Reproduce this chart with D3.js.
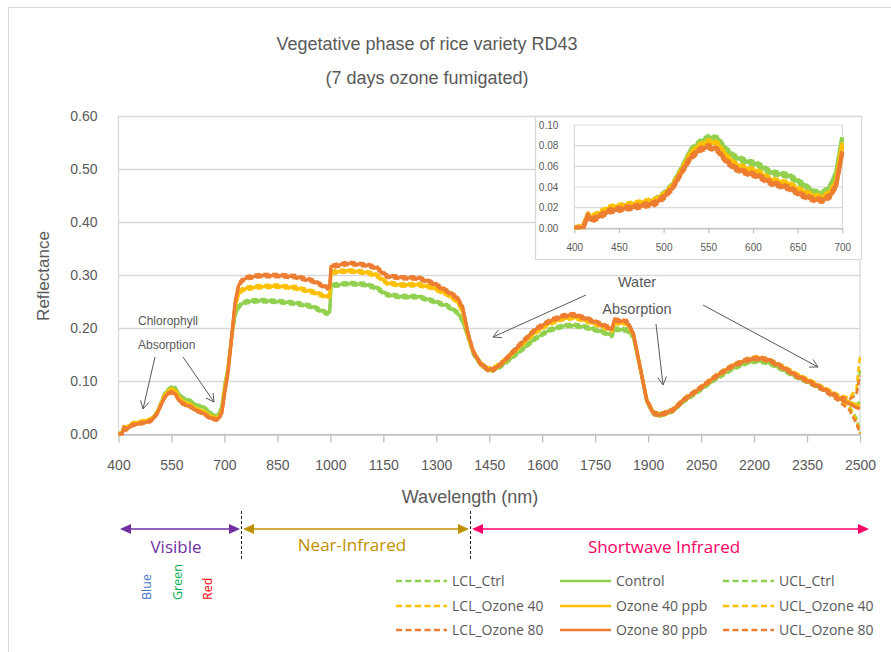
<!DOCTYPE html>
<html><head><meta charset="utf-8">
<script src="https://cdn.jsdelivr.net/npm/d3@7"></script>
<style>body{margin:0;background:#fff}svg{display:block}</style>
</head><body>
<script>
// ---------- DATA ----------
const wavelengths = [400,410,415,420,440,470,490,500,510,520,530,540,550,560,570,580,595,605,620,640,655,668,678,686,693,700,
 710,720,730,740,750,765,800,850,900,950,990,998,1002,1050,1100,1130,1160,1200,1250,1290,1330,1360,1375,1390,1405,1425,1445,1460,1480,1500,1540,1580,1620,1660,1690,1720,1760,1798,1804,1840,1858,1877,1896,1915,1935,1970,2000,2040,2090,2140,2180,2210,2240,2280,2320,2360,2400,2440,2470,2490,2500];

const control = [0.000,0.002,0.012,0.010,0.019,0.023,0.027,0.033,0.042,0.058,0.075,0.083,0.088,0.087,0.076,0.069,0.064,0.062,0.054,0.051,0.043,0.035,0.034,0.040,0.053,0.088,
 0.125,0.180,0.225,0.240,0.246,0.250,0.252,0.250,0.247,0.240,0.228,0.230,0.280,0.284,0.282,0.276,0.263,0.259,0.259,0.251,0.242,0.229,0.213,0.183,0.152,0.132,0.122,0.121,0.127,0.137,0.158,0.180,0.196,0.204,0.205,0.202,0.195,0.186,0.198,0.196,0.184,0.125,0.062,0.039,0.036,0.044,0.062,0.080,0.104,0.124,0.135,0.138,0.135,0.122,0.108,0.096,0.083,0.068,0.060,0.055,0.060];
const lclCtrl = [0.000,0.000,0.010,0.008,0.017,0.021,0.025,0.031,0.040,0.056,0.073,0.081,0.086,0.085,0.074,0.067,0.062,0.060,0.052,0.049,0.041,0.033,0.032,0.038,0.051,0.086,
 0.122,0.177,0.222,0.237,0.243,0.247,0.249,0.247,0.244,0.237,0.225,0.227,0.277,0.281,0.279,0.273,0.260,0.256,0.256,0.248,0.239,0.226,0.210,0.180,0.149,0.129,0.119,0.118,0.124,0.134,0.155,0.177,0.193,0.201,0.202,0.199,0.192,0.183,0.195,0.193,0.181,0.122,0.059,0.036,0.033,0.041,0.059,0.077,0.101,0.121,0.132,0.135,0.132,0.119,0.105,0.093,0.080,0.064,0.052,0.030,0.005];
const uclCtrl = [0.001,0.004,0.014,0.012,0.021,0.025,0.029,0.035,0.044,0.060,0.077,0.085,0.090,0.089,0.078,0.071,0.066,0.064,0.056,0.053,0.045,0.037,0.036,0.042,0.055,0.090,
 0.128,0.183,0.228,0.243,0.249,0.253,0.255,0.253,0.250,0.243,0.231,0.233,0.283,0.287,0.285,0.279,0.266,0.262,0.262,0.254,0.245,0.232,0.216,0.186,0.155,0.135,0.125,0.124,0.130,0.140,0.161,0.183,0.199,0.207,0.208,0.205,0.198,0.189,0.201,0.199,0.187,0.128,0.065,0.042,0.039,0.047,0.065,0.083,0.107,0.127,0.138,0.141,0.138,0.125,0.111,0.099,0.086,0.072,0.066,0.075,0.120];

const ozone40 = [0.000,0.002,0.013,0.011,0.020,0.024,0.027,0.032,0.041,0.056,0.072,0.080,0.084,0.082,0.070,0.062,0.057,0.055,0.047,0.043,0.036,0.031,0.030,0.034,0.045,0.081,
 0.120,0.180,0.240,0.265,0.272,0.275,0.278,0.279,0.276,0.268,0.259,0.260,0.305,0.308,0.305,0.300,0.285,0.281,0.282,0.276,0.264,0.250,0.230,0.185,0.155,0.133,0.123,0.123,0.131,0.143,0.168,0.192,0.209,0.218,0.220,0.215,0.206,0.196,0.210,0.209,0.188,0.127,0.064,0.040,0.036,0.045,0.064,0.083,0.108,0.129,0.140,0.144,0.140,0.127,0.112,0.099,0.085,0.070,0.060,0.054,0.055];
const lclO40 = [0.000,0.000,0.011,0.009,0.018,0.022,0.025,0.030,0.039,0.054,0.070,0.078,0.082,0.080,0.068,0.060,0.055,0.053,0.045,0.041,0.034,0.029,0.028,0.032,0.043,0.079,
 0.117,0.177,0.237,0.262,0.269,0.272,0.275,0.276,0.273,0.265,0.256,0.257,0.302,0.305,0.302,0.297,0.282,0.278,0.279,0.273,0.261,0.247,0.227,0.182,0.152,0.130,0.120,0.120,0.128,0.140,0.165,0.189,0.206,0.215,0.217,0.212,0.203,0.193,0.207,0.206,0.185,0.124,0.061,0.037,0.033,0.042,0.061,0.080,0.105,0.126,0.137,0.141,0.137,0.124,0.109,0.096,0.082,0.066,0.050,0.025,0.002];
const uclO40 = [0.001,0.004,0.015,0.013,0.022,0.026,0.029,0.034,0.043,0.058,0.074,0.082,0.086,0.084,0.072,0.064,0.059,0.057,0.049,0.045,0.038,0.033,0.032,0.036,0.047,0.083,
 0.123,0.183,0.243,0.268,0.275,0.278,0.281,0.282,0.279,0.271,0.262,0.263,0.308,0.311,0.308,0.303,0.288,0.284,0.285,0.279,0.267,0.253,0.233,0.188,0.158,0.136,0.126,0.126,0.134,0.146,0.171,0.195,0.212,0.221,0.223,0.218,0.209,0.199,0.213,0.212,0.191,0.130,0.067,0.043,0.039,0.048,0.067,0.086,0.111,0.132,0.143,0.147,0.143,0.130,0.115,0.102,0.088,0.074,0.068,0.085,0.148];

const ozone80 = [0.000,0.000,0.012,0.008,0.017,0.021,0.024,0.030,0.039,0.054,0.068,0.076,0.079,0.076,0.065,0.058,0.053,0.051,0.044,0.039,0.032,0.028,0.027,0.031,0.041,0.074,
 0.115,0.180,0.248,0.280,0.290,0.295,0.299,0.299,0.297,0.289,0.276,0.278,0.316,0.322,0.319,0.314,0.298,0.295,0.294,0.285,0.270,0.257,0.238,0.190,0.155,0.133,0.122,0.121,0.130,0.143,0.171,0.197,0.213,0.223,0.225,0.219,0.209,0.198,0.215,0.212,0.190,0.127,0.064,0.039,0.036,0.045,0.064,0.083,0.108,0.129,0.140,0.143,0.140,0.126,0.110,0.097,0.083,0.067,0.057,0.050,0.048];
const lclO80 = [0.000,0.000,0.010,0.006,0.015,0.019,0.022,0.028,0.037,0.052,0.066,0.074,0.077,0.074,0.063,0.056,0.051,0.049,0.042,0.037,0.030,0.026,0.025,0.029,0.039,0.072,
 0.112,0.177,0.245,0.277,0.287,0.292,0.296,0.296,0.294,0.286,0.273,0.275,0.313,0.319,0.316,0.311,0.295,0.292,0.291,0.282,0.267,0.254,0.235,0.187,0.152,0.130,0.119,0.118,0.127,0.140,0.168,0.194,0.210,0.220,0.222,0.216,0.206,0.195,0.212,0.209,0.187,0.124,0.061,0.036,0.033,0.042,0.061,0.080,0.105,0.126,0.137,0.140,0.137,0.123,0.107,0.094,0.080,0.062,0.045,0.020,0.000];
const uclO80 = [0.001,0.002,0.014,0.010,0.019,0.023,0.026,0.032,0.041,0.056,0.070,0.078,0.081,0.078,0.067,0.060,0.055,0.053,0.046,0.041,0.034,0.030,0.029,0.033,0.043,0.076,
 0.118,0.183,0.251,0.283,0.293,0.298,0.302,0.302,0.300,0.292,0.279,0.281,0.319,0.325,0.322,0.317,0.301,0.298,0.297,0.288,0.273,0.260,0.241,0.193,0.158,0.136,0.125,0.124,0.133,0.146,0.174,0.200,0.216,0.226,0.228,0.222,0.212,0.201,0.218,0.215,0.193,0.130,0.067,0.042,0.039,0.048,0.067,0.086,0.111,0.132,0.143,0.146,0.143,0.129,0.113,0.100,0.086,0.072,0.065,0.075,0.110];

const xTicks = [400,550,700,850,1000,1150,1300,1450,1600,1750,1900,2050,2200,2350,2500];
const yTicks = [0,0.1,0.2,0.3,0.4,0.5,0.6];
const insetXTicks = [400,450,500,550,600,650,700];
const insetYTicks = [0,0.02,0.04,0.06,0.08,0.10];

const seriesNames = ["LCL_Ctrl","Control","UCL_Ctrl","LCL_Ozone 40","Ozone 40 ppb","UCL_Ozone 40","LCL_Ozone 80","Ozone 80 ppb","UCL_Ozone 80"];
const seriesValues = [lclCtrl,control,uclCtrl,lclO40,ozone40,uclO40,lclO80,ozone80,uclO80];
const seriesColors = ["#92D050","#92D050","#92D050","#FFC000","#FFC000","#FFC000","#ED7D31","#ED7D31","#ED7D31"];
const seriesDashed = [true,false,true,true,false,true,true,false,true];

// ---------- DRAW ----------
const W=891,H=652, GRAY="#595959", GRID="#d9d9d9";
const baseFont="'Liberation Sans', Arial, sans-serif";
const svg=d3.select("body").append("svg").attr("width",W).attr("height",H)
  .style("font-family",baseFont);
svg.append("rect").attr("width",W).attr("height",H).attr("fill","#fff");
svg.append("rect").attr("x",8.5).attr("y",7.5).attr("width",W+20).attr("height",H+20)
  .attr("fill","none").attr("stroke",GRID);

svg.append("text").attr("x",427).attr("y",50).attr("text-anchor","middle")
  .attr("font-size",18).attr("fill",GRAY).text("Vegetative phase of rice variety RD43");
svg.append("text").attr("x",427).attr("y",84).attr("text-anchor","middle")
  .attr("font-size",18).attr("fill",GRAY).text("(7 days ozone fumigated)");

const x=d3.scaleLinear().domain([400,2500]).range([118.5,860]);
const y=d3.scaleLinear().domain([0,0.6]).range([434,116]);

// grid
svg.append("g").selectAll("line").data(yTicks).join("line")
  .attr("x1",x(400)).attr("x2",x(2500)).attr("y1",d=>Math.round(y(d))+0.5).attr("y2",d=>Math.round(y(d))+0.5)
  .attr("stroke",GRID).attr("stroke-width",1.3);
svg.append("line").attr("x1",x(2500)).attr("x2",x(2500)).attr("y1",y(0.6)).attr("y2",y(0)).attr("stroke",GRID).attr("stroke-width",1.3);
svg.append("line").attr("x1",x(400)).attr("x2",x(400)).attr("y1",y(0.6)).attr("y2",y(0)).attr("stroke",GRID).attr("stroke-width",1.3);

// axes
const xa=svg.append("g").attr("transform","translate(0,"+(Math.round(y(0))+0.5)+")")
  .call(d3.axisBottom(x).tickValues(xTicks).tickSize(8).tickSizeOuter(0).tickPadding(18).tickFormat(d3.format("d")));
xa.select(".domain").attr("stroke","#bfbfbf").attr("stroke-width",1.3);
xa.selectAll(".tick line").attr("stroke","#bfbfbf").attr("stroke-width",1.3);
xa.selectAll("text").attr("fill",GRAY).attr("font-size",14).attr("font-family",baseFont);

const ya=svg.append("g").attr("transform","translate("+x(400)+",0)")
  .call(d3.axisLeft(y).tickValues(yTicks).tickSize(0).tickPadding(21).tickFormat(d3.format(".2f")));
ya.select(".domain").remove();
ya.selectAll("text").attr("fill",GRAY).attr("font-size",14).attr("font-family",baseFont);

svg.append("text").attr("x",470).attr("y",503).attr("text-anchor","middle")
  .attr("font-size",18).attr("fill",GRAY).text("Wavelength (nm)");
svg.append("text").attr("transform","translate(49,276) rotate(-90)").attr("text-anchor","middle")
  .attr("font-size",17).attr("fill",GRAY).text("Reflectance");

// lines
svg.append("clipPath").attr("id","mainclip").append("rect")
  .attr("x",x(400)).attr("y",y(0.6)).attr("width",x(2500)-x(400)+2).attr("height",y(0)-y(0.6)+2);
const mainG=svg.append("g").attr("clip-path","url(#mainclip)");
const line=d3.line().x((d,i)=>x(wavelengths[i])).y(d=>y(d));
seriesValues.forEach((vals,k)=>{
  mainG.append("path").datum(vals).attr("d",line).attr("fill","none")
    .attr("stroke",seriesColors[k]).attr("stroke-width",seriesDashed[k]?2.6:3.4)
    .attr("stroke-linejoin","round")
    .attr("stroke-dasharray",seriesDashed[k]?"6,3":null);
});

// annotations
function arrow(x1,y1,x2,y2){
  const g=svg.append("g").attr("stroke","#595959").attr("stroke-width",1).attr("fill","none");
  g.append("line").attr("x1",x1).attr("y1",y1).attr("x2",x2).attr("y2",y2);
  const a=Math.atan2(y2-y1,x2-x1), L=9, s=0.5;
  g.append("path").attr("d",`M${x2-L*Math.cos(a-s)},${y2-L*Math.sin(a-s)}L${x2},${y2}L${x2-L*Math.cos(a+s)},${y2-L*Math.sin(a+s)}`);
}
svg.append("text").attr("x",138).attr("y",325).attr("font-size",12).attr("fill",GRAY).text("Chlorophyll");
svg.append("text").attr("x",138).attr("y",349).attr("font-size",12).attr("fill",GRAY).text("Absorption");
arrow(155,357,143,409);
arrow(183,357,214,402);
svg.append("text").attr("x",637).attr("y",287).attr("text-anchor","middle").attr("font-size",14.5).attr("fill",GRAY).text("Water");
svg.append("text").attr("x",637).attr("y",314).attr("text-anchor","middle").attr("font-size",14.5).attr("fill",GRAY).text("Absorption");
arrow(586,295,493,337);
arrow(656,324,663,385);
arrow(703,305,818,367);

// ---------- INSET ----------
svg.append("rect").attr("x",535.5).attr("y",116.5).attr("width",326).attr("height",143)
  .attr("fill","#fff").attr("stroke",GRID).attr("stroke-width",1.3);
const ix=d3.scaleLinear().domain([400,700]).range([574.3,842.3]);
const iy=d3.scaleLinear().domain([0,0.1]).range([228.3,125]);
svg.append("g").selectAll("line").data(insetYTicks).join("line")
  .attr("x1",ix(400)).attr("x2",ix(700)).attr("y1",d=>iy(d)).attr("y2",d=>iy(d))
  .attr("stroke",GRID).attr("stroke-width",1.2);
svg.append("line").attr("x1",ix(400)).attr("x2",ix(400)).attr("y1",iy(0.1)).attr("y2",iy(0)).attr("stroke",GRID).attr("stroke-width",1.2);
svg.append("line").attr("x1",ix(700)).attr("x2",ix(700)).attr("y1",iy(0.1)).attr("y2",iy(0)).attr("stroke",GRID).attr("stroke-width",1.2);
const ixa=svg.append("g").attr("transform","translate(0,"+iy(0)+")")
  .call(d3.axisBottom(ix).tickValues(insetXTicks).tickSize(5).tickSizeOuter(0).tickPadding(11).tickFormat(d3.format("d")));
ixa.select(".domain").attr("stroke","#bfbfbf").attr("stroke-width",1.2);
ixa.selectAll(".tick line").attr("stroke","#bfbfbf").attr("stroke-width",1.2);
ixa.selectAll("text").attr("fill",GRAY).attr("font-size",10).attr("font-family",baseFont);
const iya=svg.append("g").attr("transform","translate("+ix(400)+",0)")
  .call(d3.axisLeft(iy).tickValues(insetYTicks).tickSize(0).tickPadding(16).tickFormat(d3.format(".2f")));
iya.select(".domain").remove();
iya.selectAll("text").attr("fill",GRAY).attr("font-size",10).attr("font-family",baseFont);
svg.append("clipPath").attr("id","insetclip").append("rect")
  .attr("x",ix(400)).attr("y",iy(0.1)-2).attr("width",ix(700)-ix(400)+2).attr("height",iy(0)-iy(0.1)+3);
const insetG=svg.append("g").attr("clip-path","url(#insetclip)");
const iline=d3.line().defined((d,i)=>wavelengths[i]<=700).x((d,i)=>ix(wavelengths[i])).y(d=>iy(d));
seriesValues.forEach((vals,k)=>{
  insetG.append("path").datum(vals).attr("d",iline).attr("fill","none")
    .attr("stroke",seriesColors[k]).attr("stroke-width",seriesDashed[k]?3.2:4.4)
    .attr("stroke-linejoin","round")
    .attr("stroke-dasharray",seriesDashed[k]?"6,3":null);
});

// ---------- REGIONS ----------
const regionFont="'Open Sans','Noto Sans',sans-serif";
function dblArrow(x1,x2,yy,col){
  const g=svg.append("g");
  g.append("line").attr("x1",x1+8).attr("x2",x2-8).attr("y1",yy).attr("y2",yy).attr("stroke",col).attr("stroke-width",1.5);
  g.append("path").attr("d",`M${x1},${yy}L${x1+11},${yy-5}L${x1+11},${yy+5}Z`).attr("fill",col);
  g.append("path").attr("d",`M${x2},${yy}L${x2-11},${yy-5}L${x2-11},${yy+5}Z`).attr("fill",col);
}
dblArrow(120,240,529,"#7030A0");
dblArrow(243,469,529,"#BF9000");
dblArrow(472,869,529,"#FF0066");
[241.5,470.5].forEach(xx=>svg.append("line").attr("x1",xx).attr("x2",xx).attr("y1",511).attr("y2",560)
  .attr("stroke","#222").attr("stroke-width",1).attr("stroke-dasharray","3,2"));
svg.append("text").attr("x",176).attr("y",553).attr("text-anchor","middle").attr("font-family",regionFont).attr("font-size",17).attr("fill","#7030A0").text("Visible");
svg.append("text").attr("x",352).attr("y",551).attr("text-anchor","middle").attr("font-family",regionFont).attr("font-size",17).attr("fill","#BF9000").text("Near-Infrared");
svg.append("text").attr("x",664).attr("y",553).attr("text-anchor","middle").attr("font-family",regionFont).attr("font-size",17).attr("fill","#FF0066").text("Shortwave Infrared");
[["Blue",151,"#4472C4"],["Green",182,"#00B050"],["Red",212,"#FF0000"]].forEach(([t,xx,c])=>{
  svg.append("text").attr("transform",`translate(${xx},600) rotate(-90)`).attr("font-family",regionFont)
    .attr("font-size",12.5).attr("fill",c).text(t);
});

// ---------- LEGEND ----------
const legCols=[396,560,723];
const legRows=[581,606,630];
seriesNames.forEach((name,k)=>{
  const col=k%3, row=Math.floor(k/3);
  const lx=legCols[col], ly=legRows[row];
  svg.append("line").attr("x1",lx).attr("x2",lx+51).attr("y1",ly).attr("y2",ly)
    .attr("stroke",seriesColors[k]).attr("stroke-width",2.5)
    .attr("stroke-dasharray",seriesDashed[k]?"6,3.5":null);
  svg.append("text").attr("x",lx+56).attr("y",ly+5).attr("font-family",regionFont)
    .attr("font-size",14).attr("fill",GRAY).text(name);
});
</script>
</body></html>
